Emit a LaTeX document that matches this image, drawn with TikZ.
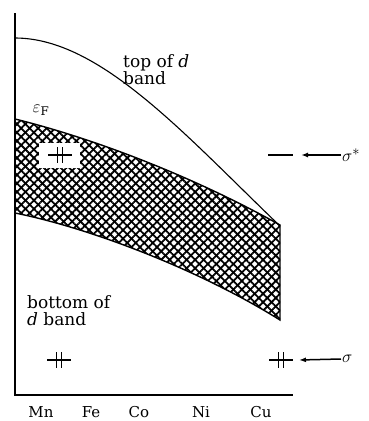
\documentclass[tikz,border=0pt]{standalone}
\usepackage{fontspec}
\setmainfont{DejaVu Serif}
\usetikzlibrary{arrows.meta,patterns.meta,positioning}
\newcommand{\contornoD}{(15,119) .. controls (100,140) and (200,180) .. (280,225)
  -- (280,320) .. controls (200,270) and (90,228) .. (15,213)}
\tikzset{
  eixo/.style={line width=2.2pt},
  curva/.style={line width=1.1pt},
  banda/.style={line width=1.4pt},
  hachuraA/.style={pattern={Lines[angle=45,distance=6pt,line width=1.8pt]}},
  hachuraB/.style={pattern={Lines[angle=-45,distance=6pt,line width=1.8pt]}},
  rotulo/.style={inner sep=0pt,align=left,font=\fontsize{17}{17}\selectfont},
  elemento/.style={inner sep=0pt,font=\fontsize{15}{15}\selectfont},
  simbolo/.style={inner sep=1pt,anchor=west,font=\fontsize{19}{19}\selectfont},
  nivel/.style={line width=1.8pt},
  seta/.style={-{Latex[length=7pt,width=5pt]},line width=1.5pt},
  pics/par/.style={code={
    \draw[nivel] (-12,0) -- (12,0);
    \draw[line width=1.1pt] (-2.5,-8) -- (-2.5,8);
    \draw[line width=1.1pt] (2.5,-8) -- (2.5,8);
  }}
}

\begin{document}
\begin{tikzpicture}[x=1pt,y=-1pt]
\useasboundingbox (0,0) rectangle (369,421);

% banda d (hachurada)
\path[hachuraA] \contornoD -- cycle;
\path[hachuraB] \contornoD -- cycle;
\draw[banda] \contornoD;

% topo da banda d
\draw[curva] (15,38) .. controls (100,38) and (185,135) .. (280,226);

% eixos
\coordinate (origem) at (15,395);
\coordinate (topo) at (15,13);
\coordinate (fimx) at (293,395);
\draw[eixo] (topo) -- (origem) -- (fimx);

% nivel de Fermi
\fill[white] (39,143) rectangle (80,168);
\pic (parF) at (60,155) {par};
\node[inner sep=0pt,font=\fontsize{17}{17}\selectfont] (eF) at (41,110) {$\varepsilon_{\mathrm F}$};

% rotulos
\node[rotulo,anchor=west] (topoD) at (123,70) {top of \textit{d}\\band};
\node[rotulo,anchor=west] (baseD) at (27,311) {bottom of\\\textit{d} band};

% sigma*
\coordinate (nivA) at (268,155);
\coordinate (nivB) at (293,155);
\draw[nivel] (nivA) -- (nivB);
\node[simbolo] (sigE) at (341,155) {$\sigma^*$};
\coordinate (sigEfim) at (301,155);
\draw[seta] (sigE.west) -- (sigEfim);

% sigma
\pic (parMn) at (59,360) {par};
\pic (parCu) at (281,360) {par};
\node[simbolo] (sig) at (341,359) {$\sigma$};
\coordinate (sigfim) at (299,360);
\draw[seta] (sig.west) -- (sigfim);

% elementos
\node[elemento] (Mn) at (41,412) {Mn};
\node[elemento] (Fe) at (91,412) {Fe};
\node[elemento] (Co) at (139,412) {Co};
\node[elemento] (Ni) at (201,412) {Ni};
\node[elemento] (Cu) at (261,412) {Cu};
\end{tikzpicture}
\end{document}
